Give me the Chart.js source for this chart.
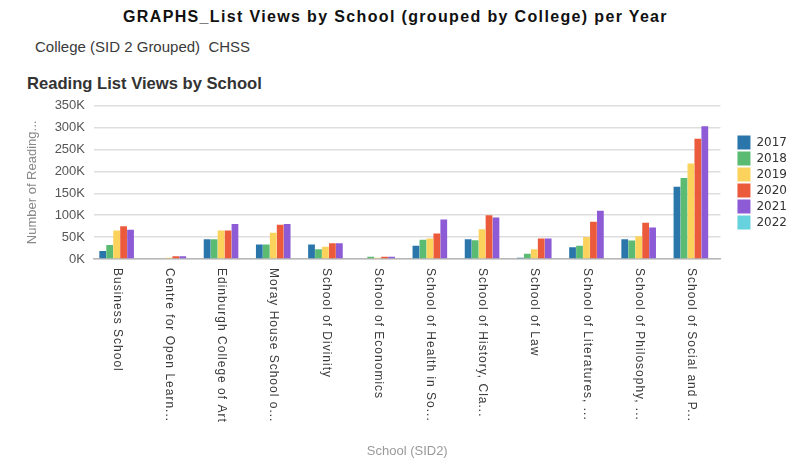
<!DOCTYPE html>
<html>
<head>
<meta charset="utf-8">
<script src="https://cdn.jsdelivr.net/npm/chart.js@4"></script>
<style>
  body { margin: 0; background: #fff; width: 791px; height: 461px; overflow: hidden; position: relative; }
  .txt { position: absolute; white-space: nowrap; font-family: "Liberation Sans", Arial, sans-serif; }
  #title { left: 0; width: 791px; text-align: center; top: 8px; font-size: 16px; font-weight: bold; letter-spacing: 1.35px; color: #111; }
  #filter { left: 35px; top: 38px; font-size: 15px; color: #3a3a3a; }
  #sub { left: 27px; top: 74px; font-size: 16.6px; font-weight: bold; color: #333; }
  #wrap { position: absolute; left: 0; top: 89px; width: 791px; height: 372px; }
</style>
</head>
<body>
<div class="txt" id="title">GRAPHS_List Views by School (grouped by College) per Year</div>
<div class="txt" id="filter">College (SID 2 Grouped)&nbsp; CHSS</div>
<div class="txt" id="sub">Reading List Views by School</div>
<div id="wrap"><canvas id="chart"></canvas></div>
<script>
// schools (labels already cut the way the report shows them)
var schools = ['Business School', 'Centre for Open Learn...', 'Edinburgh College of Art', 'Moray House School o...',
  'School of Divinity', 'School of Economics', 'School of Health in So...', 'School of History, Cla...',
  'School of Law', 'School of Literatures, ...', 'School of Philosophy, ...', 'School of Social and P...'];
var years = ['2017', '2018', '2019', '2020', '2021', '2022'];

var views2017 = [18000, 0, 45000, 33000, 33000, 0, 30000, 45000, 3000, 27000, 45000, 165000];
var views2018 = [32000, 0, 45000, 33000, 22000, 5000, 44000, 43000, 12000, 30000, 42000, 185000];
var views2019 = [65000, 3000, 65000, 60000, 28000, 3000, 47000, 68000, 22000, 50000, 52000, 218000];
var views2020 = [75000, 6000, 65000, 78000, 36000, 5000, 58000, 100000, 47000, 85000, 83000, 275000];
var views2021 = [67000, 6000, 80000, 80000, 36000, 5000, 90000, 95000, 47000, 110000, 72000, 303000];
var views2022 = [0, 0, 0, 0, 0, 0, 0, 0, 0, 0, 0, 0];

var colors = ['#2a76ab', '#5cbb72', '#fbd25c', '#eb5a3a', '#8d5bd5', '#66d2dd'];
var allViews = [views2017, views2018, views2019, views2020, views2021, views2022];

// x labels read top to bottom in the original, so draw them by hand
var schoolLabels = {
  id: 'schoolLabels',
  afterLayout: function(chart) {
    // legend sits a bit further right than chart.js puts it
    chart.legend.left += 15;
    chart.legend.right += 15;
  },
  afterDraw: function(chart) {
    var ctx = chart.ctx;
    var xs = chart.scales.x;
    ctx.save();
    ctx.font = '12px "Liberation Sans", Arial, sans-serif';
    ctx.fillStyle = '#3a3a3a';
    ctx.letterSpacing = '1px';
    ctx.textAlign = 'left';
    ctx.textBaseline = 'middle';
    for (var i = 0; i < schools.length; i++) {
      ctx.save();
      ctx.translate(xs.getPixelForValue(i) - 3, chart.chartArea.bottom + 9);
      ctx.rotate(Math.PI / 2);
      ctx.fillText(schools[i], 0, 0);
      ctx.restore();
    }
    ctx.restore();
  }
};

var ctx = document.getElementById('chart').getContext('2d');
new Chart(ctx, {
  type: 'bar',
  data: {
    labels: schools,
    datasets: years.map(function(y, i) {
      return { label: y, data: allViews[i], backgroundColor: colors[i] };
    })
  },
  options: {
    responsive: true,
    maintainAspectRatio: false,
    animation: false,
    categoryPercentage: 0.8,
    barPercentage: 0.97,
    layout: { padding: { top: 0, right: 9 } },
    plugins: {
      legend: {
        position: 'right',
        fullSize: false,
        labels: {
          boxWidth: 13,
          boxHeight: 14,
          padding: 2,
          color: '#333',
          font: { family: '"DejaVu Sans", sans-serif', size: 12 }
        }
      },
      tooltip: { enabled: false }
    },
    scales: {
      x: {
        grid: { display: false },
        border: { color: '#b8b8b8', width: 1.5 },
        ticks: { display: false },
        title: { display: true, text: 'School (SID2)', color: '#999', font: { family: '"Liberation Sans", Arial, sans-serif', size: 13 }, padding: { bottom: 2 } },
        afterFit: function(scale) { scale.height = 202; }
      },
      y: {
        min: 0,
        max: 350000,
        ticks: {
          stepSize: 50000,
          color: '#555',
          font: { family: '"Liberation Sans", Arial, sans-serif', size: 13 },
          padding: 9,
          callback: function(v) { return (v / 1000) + 'K'; }
        },
        grid: { color: '#dedede', lineWidth: 1.5, drawTicks: false },
        border: { display: false },
        title: { display: true, text: 'Number of Reading...', color: '#888', font: { family: '"Liberation Sans", Arial, sans-serif', size: 13 }, padding: { top: 25, bottom: 4 } },
        afterFit: function(scale) { scale.width = 94; }
      }
    }
  },
  plugins: [schoolLabels]
});
</script>
</body>
</html>
